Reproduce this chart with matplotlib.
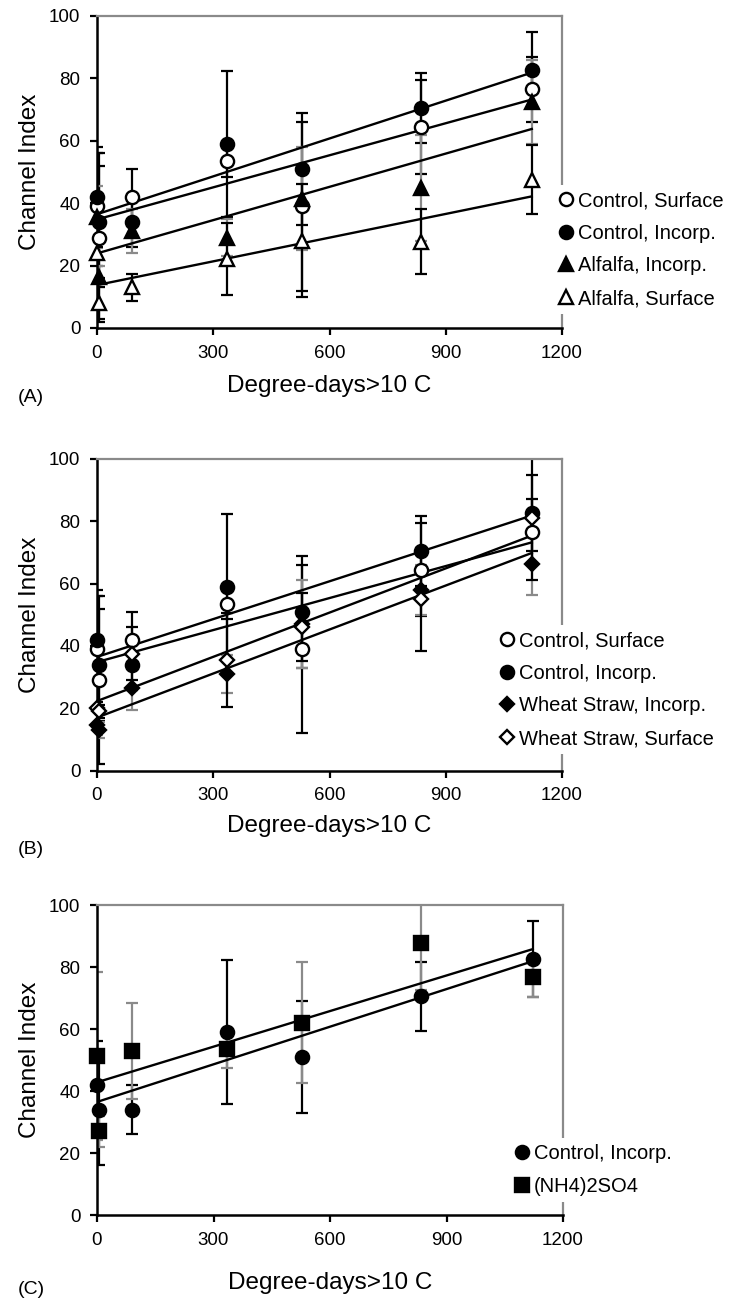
import numpy as np
import matplotlib
matplotlib.use("Agg")
import matplotlib.pyplot as plt

plt.rcParams['font.family'] = ['Liberation Sans', 'DejaVu Sans']

# ---------------- data ----------------
degree_days = [0, 5, 90, 335, 528, 835, 1122]

ctrl_surf = [39, 29, 42, 53.5, 39, 64.5, 76.5]
ctrl_surf_err = [19, 27, 9, 5, 27, 15, 10.5]
ctrl_inc = [42, 34, 34, 59, 51, 70.5, 82.7]
ctrl_inc_err = [14, 18, 8, 23.3, 18, 11.2, 12.3]

alf_inc = [35.5, 16.5, 31, 29, 41.5, 45, 72.5]
alf_inc_err = [10, 3.5, 7, 6, 16.5, 17, 13.5]
alf_surf = [24, 8, 13, 22, 28, 27.7, 47.5]
alf_surf_err = [2, 5, 4.2, 11.5, 18, 10.5, 11]

ws_inc = [14.5, 13, 26.5, 31, 47, 58, 66.3]
ws_inc_err = [3, 2.5, 7, 6, 14, 8, 10]
ws_surf = [20, 19, 37.5, 35.5, 46, 55, 81]
ws_surf_err = [2, 2, 8.5, 15, 11, 16.5, 20]

nh4 = [51.3, 27, 53, 53.5, 62, 87.7, 76.8]
nh4_err = [27, 5, 15.5, 6, 19.5, 15, 6.5]

x_ticks = [0, 300, 600, 900, 1200]
y_ticks = [0, 20, 40, 60, 80, 100]
x_label = "Degree-days>10 C"
y_label = "Channel Index"
panel_letters = ["(A)", "(B)", "(C)"]

BLACK = "black"
GRAY = "#8a8a8a"

# series: (label, y, err, marker, filled, errcolor, msize)
panels = [
    [("Control, Surface", ctrl_surf, ctrl_surf_err, "o", False, BLACK, 9.5),
     ("Control, Incorp.", ctrl_inc, ctrl_inc_err, "o", True, BLACK, 9.5),
     ("Alfalfa, Incorp.", alf_inc, alf_inc_err, "^", True, GRAY, 10),
     ("Alfalfa, Surface", alf_surf, alf_surf_err, "^", False, BLACK, 10)],
    [("Control, Surface", ctrl_surf, ctrl_surf_err, "o", False, BLACK, 9.5),
     ("Control, Incorp.", ctrl_inc, ctrl_inc_err, "o", True, BLACK, 9.5),
     ("Wheat Straw, Incorp.", ws_inc, ws_inc_err, "D", True, GRAY, 7.2),
     ("Wheat Straw, Surface", ws_surf, ws_surf_err, "D", False, BLACK, 7.2)],
    [("Control, Incorp.", ctrl_inc, ctrl_inc_err, "o", True, BLACK, 9.5),
     ("(NH4)2SO4", nh4, nh4_err, "s", True, GRAY, 9.5)],
]

W, H = 729, 1301
fig = plt.figure(figsize=(W / 100, H / 100), dpi=100)

# axes boxes in pixels: (left, top, right, bottom)
boxes = [(97, 16, 562, 328), (97, 459, 562, 770.5), (97, 905, 563, 1215)]
legend_pos = [(553, 185), (494, 625), (509, 1138)]
xlabel_y = [386, 826, 1283]
letter_y = [398, 850, 1290]

x = np.array(degree_days, dtype=float)
for i, (series, box) in enumerate(zip(panels, boxes)):
    l, t, r, b = box
    ax = fig.add_axes([l / W, 1 - b / H, (r - l) / W, (b - t) / H])
    ax.set_xlim(0, 1200)
    ax.set_ylim(0, 100)
    handles = []
    for k, (lab, yv, ev, mk, filled, ec, ms) in enumerate(series):
        yv = np.array(yv, dtype=float)
        ax.errorbar(x, yv, yerr=ev, fmt="none", ecolor=ec, elinewidth=1.6,
                    capsize=4.5, capthick=1.6, zorder=2)
        coef = np.polyfit(x, yv, 1)
        xf = np.array([x.min(), x.max()])
        ax.plot(xf, np.polyval(coef, xf), color=BLACK, lw=1.7, zorder=3)
        h, = ax.plot(x, yv, linestyle="none", marker=mk, markersize=ms,
                     markerfacecolor=(BLACK if filled else "white"),
                     markeredgecolor=BLACK, markeredgewidth=1.7,
                     label=lab, zorder=4 + k * 0.1, clip_on=False)
        handles.append(h)
    ax.set_xticks(x_ticks)
    ax.set_yticks(y_ticks)
    ax.tick_params(direction="out", length=5, width=1.6, labelsize=13.5,
                   color=BLACK, pad=7)
    for s in ["left", "bottom"]:
        ax.spines[s].set_color(BLACK)
        ax.spines[s].set_linewidth(1.8)
    for s in ["top", "right"]:
        ax.spines[s].set_color(GRAY)
        ax.spines[s].set_linewidth(1.6)
    ax.set_ylabel(y_label, fontsize=17.5, labelpad=6)
    fig.text(ax.get_position().x0 + ax.get_position().width / 2,
             1 - xlabel_y[i] / H, x_label, fontsize=17.5,
             ha="center", va="center")
    fig.text(18 / W, 1 - letter_y[i] / H, panel_letters[i], fontsize=14,
             ha="left", va="center")
    lx, ly = legend_pos[i]
    leg = ax.legend(handles=handles, loc="upper left",
                    bbox_to_anchor=(lx / W, 1 - ly / H),
                    bbox_transform=fig.transFigure, fontsize=14.5,
                    frameon=True, fancybox=False, framealpha=1,
                    facecolor="white", edgecolor="none",
                    handlelength=0.7, handletextpad=0.25,
                    borderpad=0.3, borderaxespad=0, labelspacing=0.68,
                    markerscale=1.0)
    leg.set_zorder(10)

fig.savefig("out.png", dpi=100)
